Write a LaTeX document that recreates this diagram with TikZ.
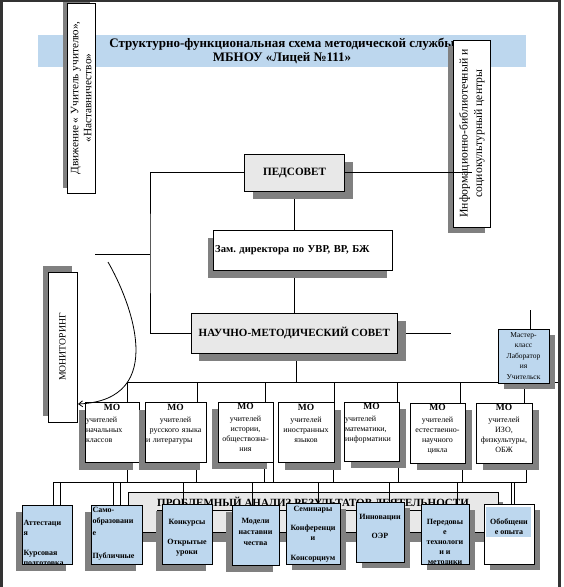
\documentclass[tikz,border=0pt]{standalone}
\usepackage{fontspec}
\setmainfont{Liberation Serif}
\usetikzlibrary{arrows.meta,shadows,calc}
\pgfdeclarelayer{bg}
\pgfsetlayers{bg,main}

\definecolor{lblue}{RGB}{189,215,238}
\definecolor{lgray}{RGB}{232,232,232}
\definecolor{shgray}{RGB}{128,128,128}

\newcommand{\fsz}[2]{\fontsize{#1}{#2}\selectfont}
\newcommand{\mohead}{{\centering\bfseries\fsz{9.5}{11}МО\par}\vspace{2pt}}

\begin{document}
\frenchspacing
\begin{tikzpicture}[x=1pt,y=-1pt,
    conn/.style={line width=0.8pt},
    bus/.style={line width=1.6pt},
    box/.style={draw,line width=0.9pt,fill=white,inner sep=1.5pt},
    sh/.style 2 args={drop shadow={shadow xshift=#1,shadow yshift=#2,fill=shgray,opacity=1}},
    lsh/.style={sh={-6pt}{-7pt}},
    rsh/.style={sh={6pt}{-6pt}},
    wsh/.style={sh={8pt}{-8pt}},
    intext/.style n args={4}{path picture={\node[inner sep=0pt,minimum width=0pt,minimum height=0pt,anchor=north,#2] (#1) at ([yshift=-#3]path picture bounding box.north) {#4};}},
    motext/.style={text width=#1,align=center,font=\fsz{8}{10}},
    btext/.style={align=center,font=\bfseries\fsz{8}{10}}
  ]
  \useasboundingbox (0,0) rectangle (563,587);

  % title
  \node[fill=lblue,minimum width=488pt,minimum height=30pt,align=center,font=\bfseries\fsz{13}{14.5}] (title) at (282,51)
    {Структурно-функциональная схема методической службы\\МБНОУ «Лицей №111»};

  \node[box,sh={-5pt}{5pt},rotate=90,minimum width=190pt,minimum height=27.5pt,align=center,font=\fsz{11.3}{13}] (dv) at (81.25,98)
    {Движение « Учитель учителю»,\\«Наставничество»};
  \node[box,sh={-6pt}{-6pt},rotate=90,minimum width=187pt,minimum height=37pt,align=center,font=\fsz{11.7}{14.5}] (info) at (472,133.5)
    {Информационно-библиотечный и\\социокультурный центры};

  \node[box,fill=lgray,wsh,minimum width=100pt,minimum height=37pt,font=\bfseries\fsz{11.2}{12}] (ped) at (294.6,172.5) {ПЕДСОВЕТ};
  \node[box,sh={-5pt}{-8pt},minimum width=179pt,minimum height=40pt,text width=175pt,align=left,font=\bfseries\fsz{10.6}{12}] (zam) at (302.7,250)
    {Зам. директора по УВР, ВР, БЖ};
  \node[box,fill=lgray,wsh,minimum width=206.5pt,minimum height=40pt,font=\bfseries\fsz{11}{12}] (nms) at (294.3,333) {НАУЧНО-МЕТОДИЧЕСКИЙ СОВЕТ};
  \node[box,sh={-5pt}{6pt},rotate=90,minimum width=150pt,minimum height=29pt,font=\fsz{9.7}{12}] (mon) at (62.5,347) {МОНИТОРИНГ};
  \node[box,fill=lblue,rsh,minimum width=51pt,minimum height=54pt,inner sep=0pt,align=center,font=\fsz{7.5}{10.5}] (mast) at (523.5,356)
    {Мастер-\\класс\\Лаборатор\\ия\\Учительск};

  % MO
  \node[box,lsh,minimum width=54pt,minimum height=60pt,intext={mo1t}{motext=52pt,align=left}{1pt}{\mohead учителей\\начальных\\классов}] (mo1) at (112,432.5) {};
  \node[box,lsh,minimum width=61pt,minimum height=60pt,intext={mo2t}{motext=59pt}{1pt}{\mohead учителей\\русского языка\\\makebox[59pt][l]{и литературы}}] (mo2) at (175.5,432.5) {};
  \node[box,lsh,minimum width=55pt,minimum height=60pt,intext={mo3t}{motext=53pt}{1pt}{\mohead учителей\\истории,\\обществозна-\\ния}] (mo3) at (245.5,432) {};
  \node[box,sh={7pt}{-7pt},minimum width=56pt,minimum height=60pt,intext={mo4t}{motext=54pt}{1pt}{\mohead учителей\\иностранных\\языков}] (mo4) at (306,432.5) {};
  \node[box,sh={7pt}{-7pt},minimum width=55pt,minimum height=59pt,intext={mo5t}{motext=53pt,align=left}{1pt}{\mohead учителей\\математики,\\информатики}] (mo5) at (371.5,431.5) {};
  \node[box,sh={7pt}{-7pt},minimum width=55pt,minimum height=60pt,intext={mo6t}{motext=53pt}{1pt}{\mohead учителей\\естественно-\\научного\\цикла}] (mo6) at (437.5,433) {};
  \node[box,sh={7pt}{-7pt},minimum width=56pt,minimum height=60pt,intext={mo7t}{motext=54pt}{1pt}{\mohead учителей\\ИЗО,\\физкультуры,\\ОБЖ}] (mo7) at (504,433) {};

  \node[box,fill=lgray,sh={5pt}{-10pt},minimum width=370pt,minimum height=40pt,intext={bant}{font=\bfseries\fsz{11}{13}}{4.5pt}{\underline{ПРОБЛЕМНЫЙ АНАЛИЗ РЕЗУЛЬТАТОВ ДЕЯТЕЛЬНОСТИ}}] (ban) at (313,512) {};

  % bottom row
  \node[box,fill=lblue,lsh,minimum width=50pt,minimum height=59pt,intext={attt}{btext,align=left,text width=47pt}{15pt}{Аттестаци\\я\\[10pt]Курсовая\\подготовка}] (att) at (47,534.5) {};
  \node[box,fill=lblue,lsh,minimum width=51pt,minimum height=59pt,intext={samot}{btext,align=left,text width=48pt,font=\bfseries\fsz{8}{11.5}}{1.5pt}{Само-\\образовани\\е\\[11.5pt]Публичные\\отчеты}] (samo) at (116.5,534.5) {};
  \node[box,fill=lblue,lsh,minimum width=50pt,minimum height=60pt,intext={konkt}{btext}{14.5pt}{Конкурсы\\[10pt]Открытые\\уроки}] (konk) at (187,534) {};
  \node[box,fill=lblue,lsh,minimum width=47pt,minimum height=60pt,intext={modelt}{btext,font=\bfseries\fsz{8}{11}}{13pt}{Модели\\наставни\\чества}] (model) at (255.5,535) {};
  \node[box,fill=lblue,rsh,minimum width=54pt,minimum height=61pt,intext={semt}{btext}{3pt}{Семинары\\[9pt]Конференци\\и\\[10pt]Консорциум}] (sem) at (313,533.5) {};
  \node[box,fill=lblue,rsh,minimum width=48pt,minimum height=60pt,intext={innovt}{btext}{11.5pt}{Инновации\\[9pt]ОЭР}] (innov) at (380,532) {};
  \node[box,fill=lblue,rsh,minimum width=48pt,minimum height=60pt,intext={peredt}{btext}{15pt}{Передовы\\е\\технологи\\и и\\методики}] (pered) at (445,534) {};
  \node[box,rsh,minimum width=50pt,minimum height=60pt,path picture={
      \fill[lblue] ([shift={(1.7pt,-2.7pt)}]path picture bounding box.north west) rectangle ++(45pt,-30pt);
      \node[btext,inner sep=0pt,minimum width=0pt,minimum height=0pt,anchor=north] (obobt) at ([yshift=-14.5pt]path picture bounding box.north) {Обобщени\\е опыта};}] (obob) at (509,534) {};

  \begin{pgfonlayer}{bg}
    \coordinate (lft) at (150,254);
    \coordinate (dng) at (95,254);
    \draw[conn] (ped.west) -| (lft) |- (nms.west);
    \draw[conn] (lft) -- (dng);
    \draw[conn] (ped.south) -- (ped.south |- zam.north);
    \draw[conn] (ped.south |- zam.south) -- (ped.south |- nms.north);
    \coordinate (nmsr) at (451,333);
    \draw[conn] (nms.east) -- (nmsr);
    \coordinate (mtop) at (530,310);
    \draw[conn] (mtop) -- (mtop |- mast.north);
    \coordinate (bus1) at (127.5,382);
    \coordinate (bus2) at (560,382);
    \draw[conn] (bus1) -- (bus2);
    \draw[conn] ([xshift=1.7pt]nms.south) -- ([xshift=1.7pt]nms.south |- bus1);
    \foreach \x/\m in {127.5/mo1,197/mo2,265/mo3,334/mo4,397/mo5,460/mo6,524/mo7}{
      \coordinate (top-\m) at (\x,382);
      \draw[conn] (top-\m) -- (top-\m |- \m.north);
    }
    \coordinate (bb1) at (53,482.5);
    \coordinate (bb2) at (526,482.5);
    \draw[bus] (bb1) -- (bb2);
    \foreach \x/\m [count=\i] in {127.7/mo1,196.7/mo2,264.7/mo3,273.3/mo3,333/mo4,398.7/mo5,462/mo6,526/mo7}{
      \coordinate (bot-\i) at (\x,482.5);
      \draw[conn] (\m.south -| bot-\i) -- (bot-\i);
    }
  \end{pgfonlayer}

  \draw[conn,line width=1.6pt] (ped.east) -- (ped.east -| info.center);
  \foreach \x/\b [count=\i] in {53/att,60/att,113/samo,120/samo,183/konk,252/model,318/sem,389/innov,457/pered,511/obob,514/obob}{
    \coordinate (dn-\i) at (\x,482.5);
    \draw[conn] (dn-\i) -- (dn-\i |- \b.north);
  }

  \coordinate (cv) at (108,262);
  \coordinate (arr) at (78,404);
  \draw[conn,-{Straight Barb[length=4pt,width=6pt]}] (cv) .. controls (130,300) and (170,400) .. (arr);

  % frame
  \draw[line width=2.5pt,black!80] (1.5,587) -- (1.5,1.2) -- (559.5,1.2) -- (559.5,587);
\end{tikzpicture}
\end{document}
